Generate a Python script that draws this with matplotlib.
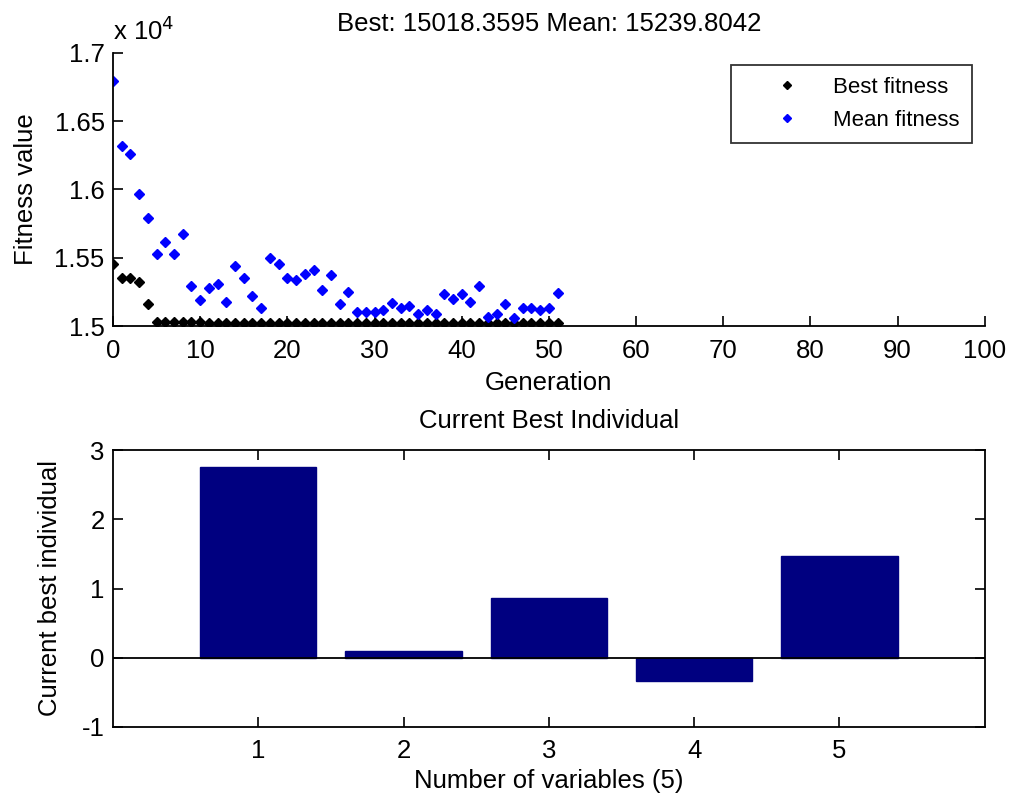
import numpy as np
import matplotlib
matplotlib.use('Agg')
import matplotlib.pyplot as plt
from matplotlib.ticker import FuncFormatter

plt.rcParams['font.family'] = ['Liberation Sans', 'DejaVu Sans']
plt.rcParams['axes.unicode_minus'] = False

# generations and fitness values
gen = np.arange(52)
best_fit = [15454, 15354, 15354, 15325, 15160, 15032, 15032, 15032, 15032, 15032,
            15030] + [15018.3595] * 41
mean_fit = [16790, 16320, 16260, 15966, 15790, 15530, 15616, 15530, 15677, 15293,
            15193, 15276, 15305, 15174, 15437, 15350, 15218, 15130, 15496, 15452,
            15350, 15335, 15380, 15410, 15264, 15370, 15160, 15250, 15100, 15105,
            15105, 15120, 15166, 15130, 15147, 15086, 15117, 15088, 15235, 15200,
            15235, 15174, 15293, 15068, 15088, 15160, 15056, 15130, 15130, 15117,
            15130, 15239.8042]

var_idx = [1, 2, 3, 4, 5]
best_ind = [2.76, 0.10, 0.86, -0.33, 1.465]

fs = 18.5
fig = plt.figure(figsize=(10.09, 8), dpi=100)

# ---- top: fitness per generation
ax1 = fig.add_axes([0.112, 0.5925, 0.864, 0.3415])
ax1.plot(gen, best_fit, 'D', color='black', markersize=4.6, label='Best fitness')
ax1.plot(gen, mean_fit, 'D', color='blue', markersize=4.6, label='Mean fitness')
ax1.set_xlim(0, 100)
ax1.set_ylim(15000, 17000)
ax1.set_xticks(np.arange(0, 101, 10))
ax1.set_yticks(np.arange(15000, 17001, 500))
ax1.yaxis.set_major_formatter(FuncFormatter(lambda v, p: '%g' % (v / 1e4)))
for s in ['top', 'right']:
    ax1.spines[s].set_visible(False)
ax1.tick_params(direction='in', length=7, labelsize=fs, width=1.2)
ax1.tick_params(axis='x', pad=9)
ax1.tick_params(axis='y', pad=6)
ax1.spines['left'].set_linewidth(1.3)
ax1.spines['bottom'].set_linewidth(1.3)
ax1.set_xlabel('Generation', fontsize=fs, labelpad=6)
ax1.set_ylabel('Fitness value', fontsize=fs, labelpad=12)
ax1.set_title('Best: 15018.3595 Mean: 15239.8042', fontsize=fs, pad=16)
ax1.text(0.0, 1.03, r'x 10$^4$', transform=ax1.transAxes, fontsize=fs, va='bottom')
leg = ax1.legend(loc='upper right', bbox_to_anchor=(0.985, 0.956), fontsize=16,
                 frameon=True, fancybox=False, edgecolor='black', markerscale=0.8,
                 handletextpad=0.1, borderpad=0.53, labelspacing=0.55,
                 handlelength=3.97, borderaxespad=0)
leg.get_frame().set_linewidth(1.3)

# ---- bottom: current best individual
ax2 = fig.add_axes([0.112, 0.09125, 0.864, 0.34625])
ax2.bar(var_idx, best_ind, width=0.8, color='#000080', edgecolor='#000080')
ax2.axhline(0, color='black', linewidth=1.3)
ax2.set_xlim(0, 6)
ax2.set_ylim(-1, 3)
ax2.set_xticks(var_idx)
ax2.set_yticks([-1, 0, 1, 2, 3])
ax2.tick_params(direction='in', length=7, labelsize=fs, width=1.2,
                top=True, right=True)
ax2.tick_params(axis='x', pad=9)
ax2.tick_params(axis='y', pad=6)
for s in ax2.spines.values():
    s.set_linewidth(1.3)
ax2.set_xlabel('Number of variables (5)', fontsize=fs, labelpad=4)
ax2.set_ylabel('Current best individual', fontsize=fs, labelpad=14)
ax2.set_title('Current Best Individual', fontsize=fs, pad=16)

plt.savefig('out.png', dpi=100)
